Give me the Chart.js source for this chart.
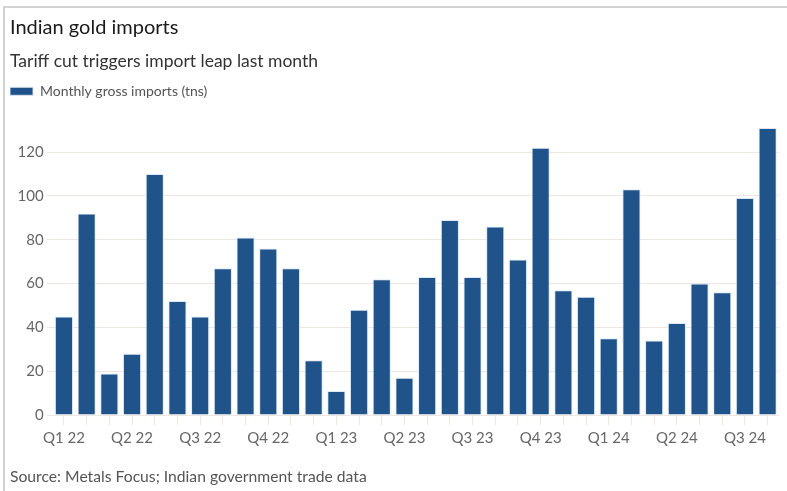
<!DOCTYPE html>
<html>
<head>
<meta charset="utf-8">
<script src="https://cdn.jsdelivr.net/npm/chart.js@4.4.1/dist/chart.umd.min.js"></script>
<style>
  html, body { margin: 0; padding: 0; background: #fff; }
  #wrap { position: relative; width: 787px; height: 491px; overflow: hidden; }
  #frame { position: absolute; left: 3px; top: 6px; right: -4px; bottom: -4px;
           border-top: 2px solid #d2d2d2; border-left: 2px solid #d2d2d2; }
  canvas { position: absolute; left: 0; top: 0; }
  #source { position: absolute; left: 10px; top: 467px; font: 15.7px Lato, sans-serif; color: #555; }
</style>
</head>
<body>
<div id="wrap">
  <div id="frame"></div>
  <canvas id="chart" width="787" height="491"></canvas>
  <div id="source">Source: Metals Focus; Indian government trade data</div>
</div>
<script>
// monthly gross imports, Jan 2022 .. Aug 2024 (tonnes)
const quarter_labels = ['Q1 22', 'Q2 22', 'Q3 22', 'Q4 22', 'Q1 23', 'Q2 23', 'Q3 23', 'Q4 23', 'Q1 24', 'Q2 24', 'Q3 24'];
const imports = [
  45, 92, 19, 28, 110, 52, 45, 67, 81, 76, 67, 25,
  11, 48, 62, 17, 63, 89, 63, 86, 71, 122, 57, 54,
  35, 103, 34, 42, 60, 56, 99, 131
];
const series_name = 'Monthly gross imports (tns)';

// one label per month, quarter name on the first month of each quarter
const labels = imports.map((v, i) => i % 3 === 0 ? quarter_labels[i / 3] : '');

const FONT = 'Lato, sans-serif';
const grid_col = '#eee7e1';

new Chart(document.getElementById('chart'), {
  type: 'bar',
  data: {
    labels,
    datasets: [{
      label: series_name,
      data: imports,
      backgroundColor: '#1f5389',
      borderColor: 'rgba(215,230,245,0.9)',
      borderWidth: 1,
      barPercentage: 0.8,
      categoryPercentage: 1.0
    }]
  },
  options: {
    responsive: false,
    animation: false,
    layout: { padding: { left: 10, right: 8, top: 0, bottom: 40 } },
    plugins: {
      title: {
        display: true, text: 'Indian gold imports', align: 'start', color: '#1a1a1a',
        font: { family: FONT, size: 20, weight: 'normal' }, padding: { top: 16, bottom: 7 }
      },
      subtitle: {
        display: true, text: 'Tariff cut triggers import leap last month', align: 'start', color: '#333',
        font: { family: FONT, size: 17.5 }, padding: { top: 4, bottom: 12.3 }
      },
      legend: {
        align: 'start',
        labels: {
          boxWidth: 23, boxHeight: 8, padding: 0, color: '#555',
          font: { family: FONT, size: 14 }
        }
      },
      tooltip: { enabled: false }
    },
    scales: {
      x: {
        offset: true,
        grid: { offset: false, drawOnChartArea: false, drawTicks: true, tickLength: 10, color: grid_col },
        border: { display: false },
        ticks: {
          autoSkip: false, maxRotation: 0, padding: 4, color: '#666',
          font: { family: FONT, size: 15 }
        }
      },
      y: {
        min: 0, max: 140,
        afterBuildTicks: axis => { axis.ticks = axis.ticks.filter(t => t.value <= 120); },
        afterFit: axis => { axis.width = 42.6; },
        grid: { color: grid_col, tickLength: 6 },
        border: { display: false },
        ticks: { stepSize: 20, padding: 3, color: '#666', font: { family: FONT, size: 15 } }
      }
    }
  }
});
</script>
</body>
</html>
